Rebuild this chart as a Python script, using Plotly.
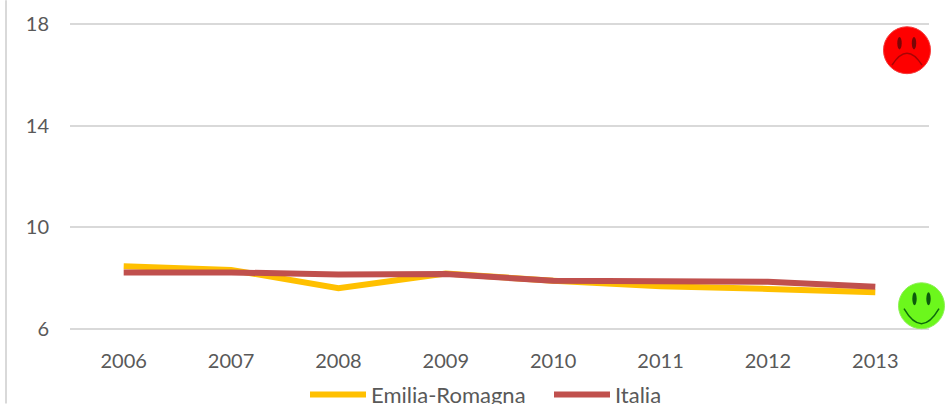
import plotly.graph_objects as go

years = ["2006", "2007", "2008", "2009", "2010", "2011", "2012", "2013"]
emilia_romagna = [8.46, 8.32, 7.60, 8.18, 7.89, 7.67, 7.57, 7.44]
italia = [8.22, 8.22, 8.14, 8.16, 7.89, 7.87, 7.85, 7.65]
y_ticks = [6, 10, 14, 18]

W, H = 946, 404
L, R, T, B = 70, 17, 22.73, 73.7
FONT = "Lato, Carlito, sans-serif"
GREY = "#595959"


def px(x):
    return (x - L) / (W - L - R)


def py(y):
    return 1 - (y - T) / (H - T - B)


def ellipse(cx, cy, rx, ry, fill, line=None, lw=0):
    return dict(type="circle", xref="paper", yref="paper",
                x0=px(cx - rx), x1=px(cx + rx), y0=py(cy + ry), y1=py(cy - ry),
                fillcolor=fill, line=dict(color=line or fill, width=lw), layer="above")


def curve(x0, y0, cx, cy, x1, y1, color, lw):
    path = f"M {px(x0)} {py(y0)} Q {px(cx)} {py(cy)} {px(x1)} {py(y1)}"
    return dict(type="path", xref="paper", yref="paper", path=path,
                line=dict(color=color, width=lw), layer="above")


shapes = [
    # chart frame on the left edge
    dict(type="line", xref="paper", yref="paper", x0=px(6), x1=px(6), y0=py(0), y1=py(404),
         line=dict(color="#d9d9d9", width=2), layer="below"),
    # sad face
    ellipse(907, 50, 23.5, 23.5, "#fe0000", "#f53a3a", 1),
    ellipse(899.5, 43, 2.2, 6.2, "#7a0606"),
    ellipse(914, 43, 2.2, 6.2, "#7a0606"),
    curve(892, 65, 907, 41, 922, 65, "#a80404", 1.5),
    # happy face
    ellipse(921.5, 306, 23, 23, "#6cf71c", "#8cf055", 1),
    ellipse(914.5, 299, 2.2, 6.5, "#0c5a0c"),
    ellipse(928.5, 299, 2.2, 6.5, "#0c5a0c"),
    curve(904, 309, 921.5, 339, 939, 309, "#0c6a0c", 1.5),
]

fig = go.Figure()
fig.add_trace(go.Scatter(x=years, y=emilia_romagna, mode="lines", name="Emilia-Romagna",
                         line=dict(color="#FFC000", width=6)))
fig.add_trace(go.Scatter(x=years, y=italia, mode="lines", name="Italia",
                         line=dict(color="#C0504D", width=6)))

fig.update_layout(
    width=W, height=H,
    margin=dict(l=L, r=R, t=T, b=B, autoexpand=False),
    paper_bgcolor="white", plot_bgcolor="white",
    font=dict(family=FONT, size=20, color=GREY),
    shapes=shapes,
    legend=dict(orientation="h", x=px(305), xanchor="left",
                y=py(374), yanchor="top", itemwidth=56, entrywidth=173, entrywidthmode="pixels",
                font=dict(family=FONT, size=22, color=GREY),
                bgcolor="rgba(0,0,0,0)"),
    xaxis=dict(type="category", range=[-0.5, 7.5], showgrid=False, showline=False, ticks="", zeroline=False,
               tickangle=0, tickfont=dict(family=FONT, size=20, color=GREY), ticklabelstandoff=17),
    yaxis=dict(range=[5.95, 18.05], tickvals=y_ticks, showgrid=True, gridcolor="#d9d9d9", gridwidth=1.5,
               zeroline=False, showline=False, ticks="", ticklabelstandoff=20,
               tickfont=dict(family=FONT, size=20, color=GREY)),
)

fig.write_html("out.html", config=dict(displayModeBar=False),
               post_script="document.body.style.margin='0';")
